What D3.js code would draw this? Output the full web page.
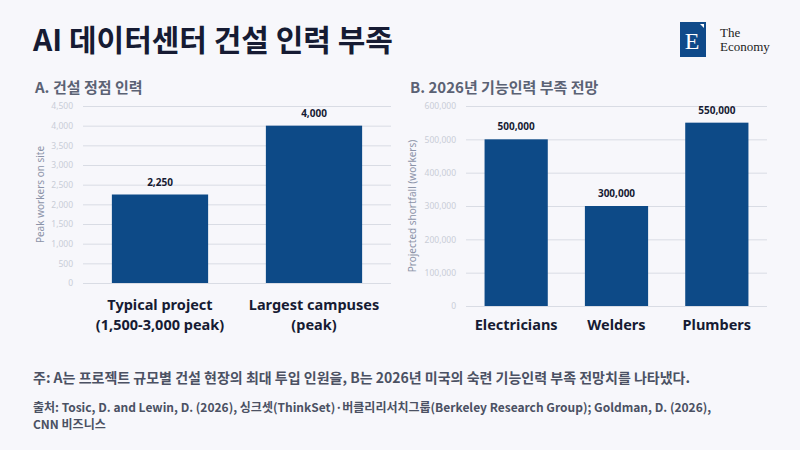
<!DOCTYPE html>
<html>
<head>
<meta charset="utf-8">
<script src="https://cdn.jsdelivr.net/npm/d3@7"></script>
<style>
  body { margin: 0; background: #f7f7fb; }
  svg { display: block; font-family: "Noto Sans CJK KR", "Noto Sans", sans-serif; }
</style>
</head>
<body>
<svg id="chart" width="800" height="450"></svg>
<script>
// panel A
var catsA = [["Typical project", "(1,500-3,000 peak)"], ["Largest campuses", "(peak)"]];
var valsA = [2250, 4000];
var ticksA = [0, 500, 1000, 1500, 2000, 2500, 3000, 3500, 4000, 4500];

// panel B
var catsB = [["Electricians"], ["Welders"], ["Plumbers"]];
var valsB = [500000, 300000, 550000];
var ticksB = [0, 100000, 200000, 300000, 400000, 500000, 600000];

var svg = d3.select('#chart');
var fmt = d3.format(',');
var barColor = '#0d4a87';

svg.append('rect').attr('width', 800).attr('height', 450).attr('fill', '#f7f7fb');

svg.append('text')
	.attr('x', 33).attr('y', 51)
	.attr('font-size', 30).attr('font-weight', 700)
	.attr('fill', '#161b33')
	.text('AI 데이터센터 건설 인력 부족');

// logo
var logo = svg.append('g');
logo.append('rect').attr('x', 680).attr('y', 22).attr('width', 26).attr('height', 35).attr('fill', '#0f4a8a');
logo.append('text').attr('x', 692).attr('y', 49).attr('text-anchor', 'middle')
	.attr('font-family', 'Liberation Serif, serif').attr('font-size', 24).attr('fill', '#fff').text('E');
logo.append('path').attr('d', 'M700,24 L704,24 L704,28 Z').attr('fill', '#fff');
logo.append('text').attr('x', 720).attr('y', 37)
	.attr('font-family', 'Liberation Serif, serif').attr('font-size', 13)
	.attr('fill', '#222').text('The');
logo.append('text').attr('x', 720).attr('y', 51)
	.attr('font-family', 'Liberation Serif, serif').attr('font-size', 13)
	.attr('fill', '#222').text('Economy');

function panel(opt) {
	var g = svg.append('g');
	g.append('text')
		.attr('x', opt.titleX).attr('y', 93)
		.attr('font-size', 15).attr('font-weight', 700)
		.attr('fill', '#5b6274')
		.text(opt.title);

	var x = d3.scaleBand()
		.domain(d3.range(opt.vals.length))
		.range([opt.x0, opt.x1])
		.paddingInner(opt.pad).paddingOuter(opt.pad / 2);
	var y = d3.scaleLinear().domain([0, opt.max]).range([opt.y0, 106]);

	var yAxis = d3.axisLeft(y).tickValues(opt.ticks).tickFormat(fmt)
		.tickSize(-(opt.x1 - opt.x0)).tickPadding(10);
	var ag = g.append('g').attr('transform', 'translate(' + opt.x0 + ',0)').call(yAxis);
	ag.select('.domain').remove();
	ag.selectAll('.tick line').attr('stroke', '#d9dce4');
	ag.selectAll('.tick text').attr('fill', '#c9cdd7').attr('font-size', 8.5)
		.attr('font-family', 'Noto Sans, sans-serif');

	g.append('text')
		.attr('transform', 'translate(' + opt.titleAxisX + ',' + ((opt.y0 + 106) / 2) + ') rotate(-90)')
		.attr('text-anchor', 'middle')
		.attr('font-size', 10).attr('fill', '#8c93a8')
		.attr('font-family', 'Noto Sans, sans-serif')
		.text(opt.axisTitle);

	g.selectAll('rect.bar').data(opt.vals).enter().append('rect')
		.attr('class', 'bar')
		.attr('x', function(d, i) { return x(i); })
		.attr('y', function(d) { return y(d); })
		.attr('width', x.bandwidth())
		.attr('height', function(d) { return opt.y0 - y(d); })
		.attr('fill', barColor);

	g.selectAll('text.val').data(opt.vals).enter().append('text')
		.attr('class', 'val')
		.attr('x', function(d, i) { return x(i) + x.bandwidth() / 2; })
		.attr('y', function(d) { return y(d) - 9; })
		.attr('text-anchor', 'middle')
		.attr('font-size', 10).attr('font-weight', 700)
		.attr('fill', '#161b33')
		.attr('font-family', 'Noto Sans, sans-serif')
		.text(function(d) { return fmt(d); });

	opt.cats.forEach(function(lines, i) {
		lines.forEach(function(s, j) {
			g.append('text')
				.attr('x', x(i) + x.bandwidth() / 2)
				.attr('y', opt.labelY + j * 20)
				.attr('text-anchor', 'middle')
				.attr('font-size', 14.5).attr('font-weight', 700)
				.attr('fill', '#161b33')
				.attr('font-family', 'Noto Sans, sans-serif')
				.text(s);
		});
	});
}

panel({ title: 'A. 건설 정점 인력', titleX: 35, x0: 83, x1: 391, y0: 283, max: 4500,
	ticks: ticksA, vals: valsA, cats: catsA, pad: 0.375, labelY: 310,
	axisTitle: 'Peak workers on site', titleAxisX: 44 });

panel({ title: 'B. 2026년 기능인력 부족 전망', titleX: 410, x0: 466, x1: 767, y0: 306, max: 600000,
	ticks: ticksB, vals: valsB, cats: catsB, pad: 0.37, labelY: 330,
	axisTitle: 'Projected shortfall (workers)', titleAxisX: 416 });

svg.append('text')
	.attr('x', 33).attr('y', 383)
	.attr('font-size', 14).attr('font-weight', 600)
	.attr('fill', '#4b5163')
	.text('주: A는 프로젝트 규모별 건설 현장의 최대 투입 인원을, B는 2026년 미국의 숙련 기능인력 부족 전망치를 나타냈다.');

svg.append('text')
	.attr('x', 33).attr('y', 412)
	.attr('font-size', 12).attr('font-weight', 600)
	.attr('fill', '#4b5163')
	.text('출처: Tosic, D. and Lewin, D. (2026), 싱크셋(ThinkSet)·버클리리서치그룹(Berkeley Research Group); Goldman, D. (2026),');
svg.append('text')
	.attr('x', 33).attr('y', 429)
	.attr('font-size', 12).attr('font-weight', 600)
	.attr('fill', '#4b5163')
	.text('CNN 비즈니스');
</script>
</body>
</html>
